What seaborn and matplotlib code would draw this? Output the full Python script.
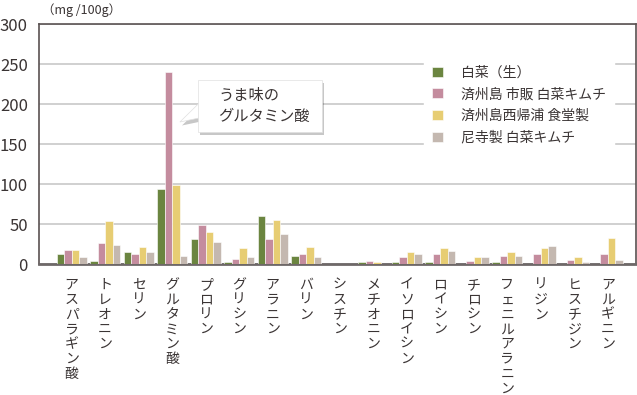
import numpy as np
import pandas as pd
import matplotlib
matplotlib.use("Agg")
import matplotlib.pyplot as plt
import matplotlib.patheffects as pe
from matplotlib.patches import Rectangle, Polygon
import seaborn as sns

# アミノ酸の種類
amino_acids = ["アスパラギン酸", "トレオニン", "セリン", "グルタミン酸", "プロリン",
               "グリシン", "アラニン", "バリン", "シスチン", "メチオニン", "イソロイシン",
               "ロイシン", "チロシン", "フェニルアラニン", "リジン", "ヒスチジン", "アルギニン"]

# 系列名
series_names = ["白菜（生）", "済州島 市販 白菜キムチ", "済州島西帰浦 食堂製", "尼寺製 白菜キムチ"]

# 値 (mg/100g)
hakusai_raw = [13, 4, 15, 94, 31, 2.5, 60, 10, 0.5, 2, 2, 2, 0.5, 2, 0.3, 0.5, 0.5]
jeju_shop = [18, 26, 12, 240, 49, 6, 31, 12, 0.5, 4, 9, 13, 3.5, 10, 12, 5.5, 13]
jeju_restaurant = [18, 54, 21, 99, 40, 19.5, 55, 21, 0.3, 2, 15, 20.5, 8.5, 14.5, 19.5, 8.5, 33]
temple_kimchi = [9, 24, 15, 10, 27.5, 9, 37, 9, 0, 0.5, 12, 16, 8.5, 10, 22, 2, 5.5]

colors = ["#6B8540", "#C48C9E", "#E7CD73", "#C4B8B0"]

sns.set_theme(style="white")
plt.rcParams["font.family"] = ["Noto Sans CJK JP", "DejaVu Sans"]
text_color = "#3a3434"

df = pd.DataFrame({
    "amino": amino_acids * 4,
    "series": np.repeat(series_names, len(amino_acids)),
    "value": hakusai_raw + jeju_shop + jeju_restaurant + temple_kimchi,
})

fig = plt.figure(figsize=(6.37, 3.95), dpi=100)
ax = fig.add_axes([0.0612, 0.3316, 0.9372, 0.6076])

sns.barplot(data=df, x="amino", y="value", hue="series", order=amino_acids,
            hue_order=series_names, palette=colors, width=0.894, gap=0,
            edgecolor="white", linewidth=0.4, saturation=1, ax=ax, zorder=3)

ax.set_ylim(0, 300)
ax.set_xlim(-0.975, 16.84)
ax.set_yticks(range(0, 301, 50))
ax.yaxis.grid(True, color="#c8c8c8", linewidth=1.2, zorder=0)
ax.set_axisbelow(True)
ax.set_xlabel("")
ax.set_ylabel("")

for side in ["left", "top", "right"]:
    ax.spines[side].set_color("#5a5252")
    ax.spines[side].set_linewidth(1.2)
ax.spines["bottom"].set_color("#6e6868")
ax.spines["bottom"].set_linewidth(2)

# 縦書きのラベル
ax.set_xticks(range(len(amino_acids)))
ax.set_xticklabels(["\n".join(name) for name in amino_acids], rotation=0,
                   va="top", ha="center", linespacing=1.07, fontsize=10, color=text_color)
ax.tick_params(axis="x", length=0, pad=10)
ax.tick_params(axis="y", length=0, pad=8, labelsize=12, labelcolor=text_color)

fig.text(0.066, 0.975, "（mg /100g）", fontsize=9, color=text_color, va="center", ha="left")

leg = ax.legend(loc="upper left", bbox_to_anchor=(0.645, 0.862), frameon=True,
                fontsize=10, handlelength=0.75, handleheight=0.75, handletextpad=1.3,
                labelspacing=0.56, borderpad=0.6, borderaxespad=0)
leg.get_frame().set_facecolor("white")
leg.get_frame().set_edgecolor("white")
leg.get_frame().set_alpha(1)
for t in leg.get_texts():
    t.set_color(text_color)

# 吹き出し
shadow = [pe.withSimplePatchShadow(offset=(1.5, -2.5), shadow_rgbFace="#000000", alpha=0.22)]
pointer = Polygon([(3.8, 201), (3.23, 177.5), (3.8, 182.5)], closed=True,
                  fc="white", ec="#e0e0e0", lw=0.5, zorder=5)
pointer.set_path_effects(shadow)
ax.add_patch(pointer)
box = Rectangle((3.77, 165), 3.7, 65, fc="white", ec="#e0e0e0", lw=0.5, zorder=6)
box.set_path_effects(shadow)
ax.add_patch(box)
ax.text(4.37, 197.5, "うま味の\nグルタミン酸", fontsize=11, color=text_color,
        va="center", ha="left", linespacing=1.35, zorder=7)

fig.savefig("out.png", dpi=100)
